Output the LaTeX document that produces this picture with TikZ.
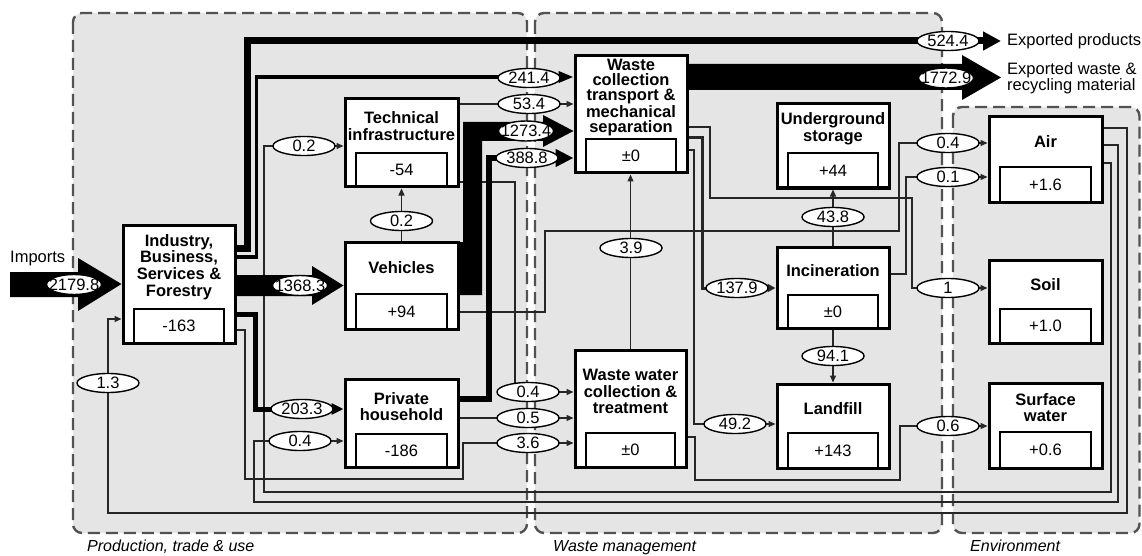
\documentclass[tikz,border=0pt]{standalone}
\usepackage{fontspec}
\setmainfont{Liberation Sans}
\usetikzlibrary{arrows.meta,shapes.geometric}
\tikzset{
  region/.style={draw=black!68, line width=2.4pt, dash pattern=on 12pt off 6pt, fill=black!10, rounded corners=9pt},
  procbox/.style={draw=black, line width=3pt, fill=white, inner sep=0pt},
  ttl/.style={font=\bfseries\fontsize{16.5}{16.8}\selectfont, align=center, inner sep=0pt},
  ttltight/.style={font=\bfseries\fontsize{16.5}{15.3}\selectfont},
  val/.style={font=\fontsize{16.5}{18}\selectfont, inner sep=0pt},
  flab/.style={ellipse, draw=black, line width=1.4pt, fill=white, minimum width=62pt, minimum height=19pt, inner sep=0pt, font=\fontsize{16.5}{18}\selectfont},
  flabn/.style={flab, minimum width=55pt, minimum height=20pt},
  thinflow/.style={draw=black!85, line width=1.3pt, -{Triangle[length=7pt,width=6pt]}},
  plaintxt/.style={font=\fontsize{16.5}{18}\selectfont, inner sep=0pt},
  regtxt/.style={font=\itshape\fontsize{16}{18}\selectfont, inner sep=0pt, anchor=base west},
}
\newcommand{\pbox}[9][]{%
  \node[procbox, minimum width={#5-#3}, minimum height={#6-#4}] (#2) at ({(#3+#5)/2},{(#4+#6)/2}) {};
  \draw[line width=1.3pt] ({#3+11},#6) -- ({#3+11},#7) -- ({#5-11},#7) -- ({#5-11},#6);
  \node[ttl,#1] (#2-t) at ({(#3+#5)/2},{(#4+#7)/2}) {#8};
  \node[val] (#2-v) at ({(#3+#5)/2},{(#7+#6)/2}) {#9};
}
\newcommand{\lb}[4][flab]{\node[#1] (#2) at (#3) {\makebox[0pt]{#4}};}
\begin{document}
\begin{tikzpicture}[x=1pt,y=-1pt]
\useasboundingbox (0,0) rectangle (1142,556);
% regions
\draw[region] (73,13) rectangle (527,533);
\draw[region] (535,13) rectangle (942,533);
\draw[region] (953,107) rectangle (1139.5,533);
\node[regtxt] (rg1) at (87,551) {Production, trade \& use};
\node[regtxt] (rg2) at (553,551) {Waste management};
\node[regtxt] (rg3) at (970,551) {Environment};

% boxes
\pbox{ind}{123}{225}{235}{343}{309}{Industry,\\Business,\\Services \&\\Forestry}{-163}
\pbox{tech}{345}{99}{458}{187}{153}{Technical\\infrastructure}{-54}
\pbox{veh}{345}{242}{458}{329}{294}{Vehicles}{+94}
\pbox{hh}{345}{379}{458}{467}{434}{Private\\household}{-186}
\pbox[ttltight]{wc}{575}{56}{687}{173}{139}{Waste\\collection\\transport \&\\mechanical\\separation}{±0}
\pbox{ww}{575}{350}{686}{467}{433}{Waste water\\collection \&\\treatment}{±0}
\pbox{ug}{777}{104}{889}{188}{153}{Underground\\storage}{+44}
\pbox{inc}{777}{247}{889}{328}{295}{Incineration}{±0}
\pbox{lf}{777}{384}{889}{468}{433}{Landfill}{+143}
\pbox{air}{989}{117}{1102}{202}{167}{Air}{+1.6}
\pbox{soil}{989}{260}{1102}{343}{309}{Soil}{+1.0}
\pbox{sw}{989}{383}{1102}{468}{432}{Surface\\water}{+0.6}

% outside texts
\node[plaintxt, anchor=base west] (imp) at (10,262) {Imports};
\node[plaintxt, anchor=west] (expP) at (1007,41) {Exported products};
\node[plaintxt, anchor=west, align=left, font=\fontsize{16.5}{13}\selectfont] (expW) at (1007,78) {Exported waste \&\\recycling material};
\coordinate (impS) at (10,284.5);
\coordinate (expPtip) at (1001,41);
\coordinate (expWtip) at (1001,77.5);

% thin flows
\draw[thinflow] (ind.east |- 0,330) -- (245,330) -- (245,479) -- (463,479) -- (463,443) -- (ww.west |- 0,443);
\draw[thinflow] (tech.east |- 0,182) -- (515,182) -- (515,392) -- (ww.west |- 0,392);
\draw[thinflow] (hh.east |- 0,418) -- (ww.west |- 0,418);
\draw[thinflow] (tech.east |- 0,104) -- (wc.west |- 0,104);
\draw[thinflow] (veh.north) -- (tech.south);
\draw[thinflow] (ww.north) -- (ww.north |- wc.south);
\draw[thinflow] (veh.east |- 0,312) -- (545,312) -- (545,231) -- (899,231) -- (899,143) -- (air.west |- 0,143);
\draw[thinflow] (wc.east |- 0,127) -- (710,127) -- (710,198) -- (912,198) -- (912,288) -- (soil.west |- 0,288);
\draw[thinflow] (wc.east |- 0,150) -- (694,150) -- (694,424) -- (lf.west |- 0,424);
\draw[thinflow, line width=3pt, -{Triangle[length=8pt,width=8pt]}] (wc.east |- 0,138) -- (702,138) -- (702,288) -- (inc.west |- 0,288);
\draw[thinflow] (inc.north) -- (ug.south);
\draw[thinflow] (inc.south) -- (lf.north);
\draw[thinflow] (inc.east |- 0,274) -- (906,274) -- (906,177) -- (air.west |- 0,177);
\draw[thinflow] (ww.east |- 0,437) -- (695,437) -- (695,480) -- (900,480) -- (900,426) -- (sw.west |- 0,426);
\draw[thinflow] (air.east |- 0,163) -- (1111,163) -- (1111,492) -- (264,492) -- (264,146) -- (tech.west |- 0,146);
\draw[thinflow] (air.east |- 0,145) -- (1118,145) -- (1118,502) -- (254,502) -- (254,441) -- (hh.west |- 0,441);
\draw[thinflow] (air.east |- 0,128) -- (1127,128) -- (1127,513) -- (108,513) -- (108,319) -- (ind.west |- 0,319);

% thick flows
\fill[black] (impS |- 0,272) -- (78,272) -- (78,258) -- (ind.west) -- (78,311) -- (78,297) -- (impS |- 0,297) -- cycle;
\fill[black] (ind.east |- 0,275) -- (312,275) -- (312,266) -- (veh.west) -- (312,305) -- (312,296) -- (ind.east |- 0,296) -- cycle;
\draw[line width=7pt, -{Triangle[length=18pt,width=18pt]}] (ind.east |- 0,248) -- (247.5,248) -- (247.5,41) -- (expPtip);
\draw[line width=3.5pt, -{Triangle[length=15pt,width=11pt]}] (ind.east |- 0,257) -- (256.5,257) -- (256.5,77) -- (wc.west |- 0,77);
\draw[line width=5pt, -{Triangle[length=12pt,width=11pt]}] (ind.east |- 0,314) -- (255.5,314) -- (255.5,409) -- (hh.west |- 0,409);
\fill[black] (463,122) -- (543,122) -- (543,115) -- (wc.west |- 0,131) -- (543,147) -- (543,141) -- (482,141) -- (482,295) -- (veh.east |- 0,295) -- (veh.east |- 0,242) -- (463,242) -- cycle;
\draw[line width=6pt, -{Triangle[length=18pt,width=17pt]}] (hh.east |- 0,398.5) -- (489,398.5) -- (489,158) -- (wc.west |- 0,158);
\fill[black] (wc.east |- 0,64) -- (962,64) -- (962,55) -- (expWtip) -- (962,100) -- (962,90) -- (wc.east |- 0,90) -- cycle;

% labels
\lb[flabn]{l2179}{74,284.5}{2179.8}
\lb[flabn]{l1368}{300,285.5}{1368.3}
\lb{l524}{948,41}{524.4}
\lb[flabn]{l1772}{946,78}{1772.9}
\lb{l241}{529,78}{241.4}
\lb{l53}{529,104}{53.4}
\lb[flabn]{l1273}{526,131}{1273.4}
\lb{l388}{527,158}{388.8}
\lb{l02a}{304,146}{0.2}
\lb{l02b}{401.5,221}{0.2}
\lb{l2033}{302,409}{203.3}
\lb{l04a}{300,441}{0.4}
\lb{l13}{108,383}{1.3}
\lb{l04b}{528,392}{0.4}
\lb{l05}{528,418}{0.5}
\lb{l36}{528,443}{3.6}
\lb{l39}{631,248}{3.9}
\lb{l1379}{737,288}{137.9}
\lb{l492}{735,424}{49.2}
\lb{l438}{833,217}{43.8}
\lb{l941}{833,356}{94.1}
\lb{l04c}{948,143}{0.4}
\lb{l01}{948,177}{0.1}
\lb{l1}{948,288}{1}
\lb{l06}{948,426}{0.6}
\end{tikzpicture}
\end{document}
